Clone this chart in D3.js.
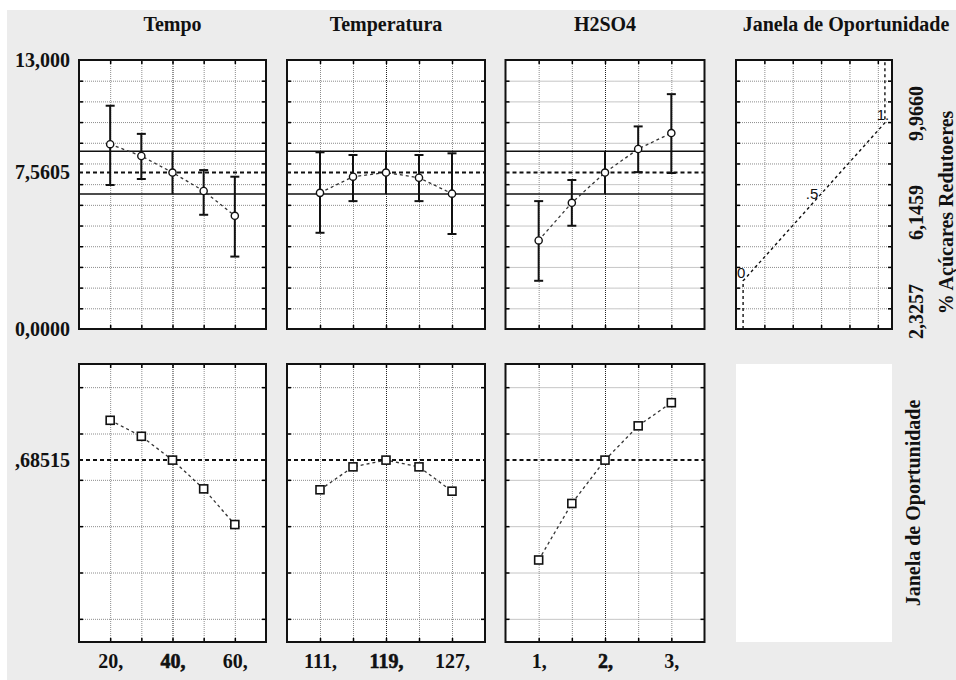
<!DOCTYPE html>
<html>
<head>
<meta charset="utf-8">
<script src="https://cdn.jsdelivr.net/npm/d3@7"></script>
<style>
  body { margin: 0; background: #fff; }
  text { font-family: "Liberation Serif", "Times New Roman", serif; font-weight: bold; fill: #111; }
</style>
</head>
<body>
<div id="chart"></div>
<script>
// factor levels (x) and predicted % acucares redutores with conf. limits
var factors = ["Tempo", "Temperatura", "H2SO4"];
var tempoLevels = [20, 30, 40, 50, 60];
var tempLevels = [111, 115, 119, 123, 127];
var acidLevels = [1, 1.5, 2, 2.5, 3];

var tempoMean = [8.93, 8.36, 7.5605, 6.67, 5.47];
var tempoLow = [6.96, 7.25, 6.53, 5.52, 3.50];
var tempoHigh = [10.79, 9.43, 8.59, 7.68, 7.36];

var tempMean = [6.58, 7.36, 7.5605, 7.31, 6.54];
var tempLow = [4.65, 6.18, 6.53, 6.18, 4.59];
var tempHigh = [8.54, 8.41, 8.59, 8.41, 8.49];

var acidMean = [4.28, 6.10, 7.5605, 8.70, 9.47];
var acidLow = [2.33, 4.99, 6.53, 7.58, 7.54];
var acidHigh = [6.18, 7.20, 8.59, 9.79, 11.35];

// desirability (Janela de Oportunidade) per level
var tempoDesir = [0.857, 0.788, 0.68515, 0.561, 0.407];
var tempDesir = [0.557, 0.656, 0.68515, 0.656, 0.551];
var acidDesir = [0.254, 0.498, 0.68515, 0.833, 0.933];

var xTickLabels = [["20,", "40,", "60,"], ["111,", "119,", "127,"], ["1,", "2,", "3,"]];
var yTopTicks = [0, 7.5605, 13];
var yTopLabels = ["0,0000", "7,5605", "13,000"];
var yBotTicks = [0.68515];
var yBotLabels = [",68515"];

var meanValue = 7.5605, ciLow = 6.53, ciHigh = 8.59;
var desirCurrent = 0.68515;
// desirability function: value -> desirability
var desirValues = [2.3257, 6.1459, 9.966];
var desirLevels = [0, 0.5, 1];
var desirLabels = ["0", ".5", "1."];
var desirValueLabels = ["2,3257", "6,1459", "9,9660"];

var width = 956, height = 680;
var fs = "20px";

// panel layout
var panelLeft = [79, 287, 505.5], panelWidth = [187, 198, 199];
var sideLeft = 736, sideWidth = 156;
var topY = 60, topH = 269, botY = 364, botH = 278;

var levels = [tempoLevels, tempLevels, acidLevels];
var means = [tempoMean, tempMean, acidMean];
var lows = [tempoLow, tempLow, acidLow];
var highs = [tempoHigh, tempHigh, acidHigh];
var desirs = [tempoDesir, tempDesir, acidDesir];

var yTop = d3.scaleLinear().domain([0, 13]).range([topH, 0]);
var yBot = d3.scaleLinear().domain([-0.1, 1.1]).range([botH, 0]);
var topGrid = d3.range(1, 13);
var botGrid = [0, 0.2, 0.4, 0.6, 0.8, 1];

var svg = d3.select("#chart").append("svg")
    .attr("width", width).attr("height", height)
    .attr("viewBox", [0, 0, width, height]);

svg.append("rect").attr("x", 7).attr("y", 10)
    .attr("width", width - 7).attr("height", height - 10)
    .attr("fill", "#ececec");

function frame(g, x, y, w, h, xGrid, yGrid, centerVal) {
    g.append("rect").attr("width", w).attr("height", h).attr("fill", "#fff");
    // grid
    g.append("g").attr("transform", `translate(0,${h})`)
        .call(d3.axisBottom(x).tickValues(xGrid).tickSize(-h).tickFormat(""))
        .call(a => a.select(".domain").remove())
        .selectAll("line").attr("stroke", d => d === centerVal ? "#222" : "#8c8c8c")
        .attr("stroke-dasharray", "1,1");
    g.append("g")
        .call(d3.axisLeft(y).tickValues(yGrid).tickSize(-w).tickFormat(""))
        .call(a => a.select(".domain").remove())
        .selectAll("line").attr("stroke", "#8c8c8c").attr("stroke-dasharray", "1,1");
    // inward ticks on every side
    var tk = [
        [d3.axisLeft(y).tickValues(yGrid), "translate(0,0)"],
        [d3.axisRight(y).tickValues(yGrid), `translate(${w},0)`],
        [d3.axisTop(x).tickValues(xGrid), "translate(0,0)"],
        [d3.axisBottom(x).tickValues(xGrid), `translate(0,${h})`]
    ];
    tk.forEach(t => {
        g.append("g").attr("class", "tk").attr("transform", t[1])
            .call(t[0].tickSize(-4).tickFormat(""))
            .call(a => a.select(".domain").remove())
            .selectAll("line").attr("stroke", "#000").attr("stroke-width", 1.5);
    });
}

function border(g, w, h) {
    g.append("rect").attr("width", w).attr("height", h)
        .attr("fill", "none").attr("stroke", "#111").attr("stroke-width", 2);
}

function labelStyle(sel) {
    sel.style("font-size", fs).style("font-weight", "bold")
        .style("font-family", "Liberation Serif, serif").attr("fill", "#111");
}

factors.forEach(function (name, i) {
    var lv = levels[i];
    var step = lv[1] - lv[0];
    var x = d3.scaleLinear().domain([lv[0] - step, lv[4] + step]).range([0, panelWidth[i]]);
    var w = panelWidth[i];

    // title
    svg.append("text").attr("x", panelLeft[i] + w / 2).attr("y", 31)
        .attr("text-anchor", "middle").style("font-size", fs).text(name);

    // ---- top row: predicted values
    var gt = svg.append("g").attr("transform", `translate(${panelLeft[i]},${topY})`);
    frame(gt, x, yTop, w, topH, lv, topGrid, lv[2]);

    gt.selectAll(".ci").data([ciLow, ciHigh]).join("line")
        .attr("x1", 0).attr("x2", w).attr("y1", d => yTop(d)).attr("y2", d => yTop(d))
        .attr("stroke", "#111").attr("stroke-width", 1.5);
    gt.append("line").attr("x1", 0).attr("x2", w)
        .attr("y1", yTop(meanValue)).attr("y2", yTop(meanValue))
        .attr("stroke", "#111").attr("stroke-width", 2).attr("stroke-dasharray", "4,3");

    var pts = lv.map((v, j) => ({x: v, m: means[i][j], lo: lows[i][j], hi: highs[i][j], d: desirs[i][j]}));

    gt.append("path").datum(pts)
        .attr("d", d3.line().x(d => x(d.x)).y(d => yTop(d.m)))
        .attr("fill", "none").attr("stroke", "#333").attr("stroke-width", 1.3)
        .attr("stroke-dasharray", "3,3");

    var eb = gt.selectAll(".eb").data(pts).join("g");
    eb.append("line").attr("x1", d => x(d.x)).attr("x2", d => x(d.x))
        .attr("y1", d => yTop(d.lo)).attr("y2", d => yTop(d.hi))
        .attr("stroke", "#111").attr("stroke-width", 2);
    eb.filter((d, j) => j !== 2).selectAll(".cap").data(d => [[d.x, d.lo], [d.x, d.hi]]).join("line")
        .attr("x1", d => x(d[0]) - 4.5).attr("x2", d => x(d[0]) + 4.5)
        .attr("y1", d => yTop(d[1])).attr("y2", d => yTop(d[1]))
        .attr("stroke", "#111").attr("stroke-width", 2);
    eb.append("circle").attr("cx", d => x(d.x)).attr("cy", d => yTop(d.m)).attr("r", 3.6)
        .attr("fill", "#fff").attr("stroke", "#111").attr("stroke-width", 1.4);

    border(gt, w, topH);

    // ---- bottom row: desirability
    var gb = svg.append("g").attr("transform", `translate(${panelLeft[i]},${botY})`);
    frame(gb, x, yBot, w, botH, lv, botGrid, lv[2]);

    gb.append("line").attr("x1", 0).attr("x2", w)
        .attr("y1", yBot(desirCurrent)).attr("y2", yBot(desirCurrent))
        .attr("stroke", "#111").attr("stroke-width", 2).attr("stroke-dasharray", "4,3");

    gb.append("path").datum(pts)
        .attr("d", d3.line().x(d => x(d.x)).y(d => yBot(d.d)))
        .attr("fill", "none").attr("stroke", "#333").attr("stroke-width", 1.3)
        .attr("stroke-dasharray", "3,3");

    gb.selectAll(".sq").data(pts).join("rect")
        .attr("x", d => x(d.x) - 4).attr("y", d => yBot(d.d) - 4)
        .attr("width", 8).attr("height", 8)
        .attr("fill", "#fff").attr("stroke", "#111").attr("stroke-width", 1.6);

    border(gb, w, botH);

    // x tick labels
    var xl = gb.append("g").attr("transform", `translate(0,${botH})`)
        .call(d3.axisBottom(x).tickValues([lv[0], lv[2], lv[4]])
            .tickSize(0).tickPadding(12)
            .tickFormat((d, j) => xTickLabels[i][j]));
    xl.select(".domain").remove();
    xl.selectAll("text").call(labelStyle)
        .attr("stroke", (d, j) => j === 1 ? "#111" : null).attr("stroke-width", 0.6);

    // y tick labels on first column
    if (i === 0) {
        var yl = gt.append("g")
            .call(d3.axisLeft(yTop).tickValues(yTopTicks).tickSize(0).tickPadding(9)
                .tickFormat((d, j) => yTopLabels[j]));
        yl.select(".domain").remove();
        yl.selectAll("text").call(labelStyle);
        var yl2 = gb.append("g")
            .call(d3.axisLeft(yBot).tickValues(yBotTicks).tickSize(0).tickPadding(9)
                .tickFormat((d, j) => yBotLabels[j]));
        yl2.select(".domain").remove();
        yl2.selectAll("text").call(labelStyle);
    }
});

// ---- right column: desirability function
var xd = d3.scaleLinear().domain([-0.05, 1.05]).range([0, sideWidth]);
var desirGrid = [0.15, 0.35, 0.55, 0.75, 0.95];

svg.append("text").attr("x", sideLeft + sideWidth / 2 + 32).attr("y", 31)
    .attr("text-anchor", "middle").style("font-size", fs).text("Janela de Oportunidade");

var gs = svg.append("g").attr("transform", `translate(${sideLeft},${topY})`);
frame(gs, xd, yTop, sideWidth, topH, desirGrid, topGrid, null);

var fn = [[0, 0]].concat(desirLevels.map((d, j) => [d, desirValues[j]])).concat([[1, 13]]);
gs.append("path").datum(fn)
    .attr("d", d3.line().x(d => xd(d[0])).y(d => yTop(d[1])))
    .attr("fill", "none").attr("stroke", "#111").attr("stroke-width", 1.4)
    .attr("stroke-dasharray", "3,3");

gs.selectAll(".dl").data(desirLevels).join("text")
    .attr("x", d => xd(d) - 2).attr("y", (d, j) => yTop(desirValues[j]) - 3)
    .attr("text-anchor", "middle")
    .style("font-family", "Liberation Sans, Arial, sans-serif").style("font-weight", "normal")
    .style("font-size", "15px").style("fill", "#111")
    .text((d, j) => desirLabels[j]);

border(gs, sideWidth, topH);

// right side rotated labels
var rl = svg.append("g").attr("transform", `translate(923,${topY + topH / 2 + 18}) rotate(-90)`);
rl.selectAll("text").data(desirValueLabels).join("text")
    .attr("x", (d, j) => (j - 1) * 99).attr("y", 0)
    .attr("text-anchor", "middle").style("font-size", fs).text(d => d);

svg.append("text")
    .attr("transform", `translate(953,${topY + topH / 2 + 18}) rotate(-90)`)
    .attr("text-anchor", "middle").style("font-size", fs).text("% Açúcares Redutoeres");

// bottom-right empty panel
svg.append("rect").attr("x", sideLeft).attr("y", botY)
    .attr("width", sideWidth).attr("height", botH).attr("fill", "#fff");

svg.append("text")
    .attr("transform", `translate(920,${botY + botH / 2}) rotate(-90)`)
    .attr("text-anchor", "middle").style("font-size", fs).text("Janela de Oportunidade");
</script>
</body>
</html>
